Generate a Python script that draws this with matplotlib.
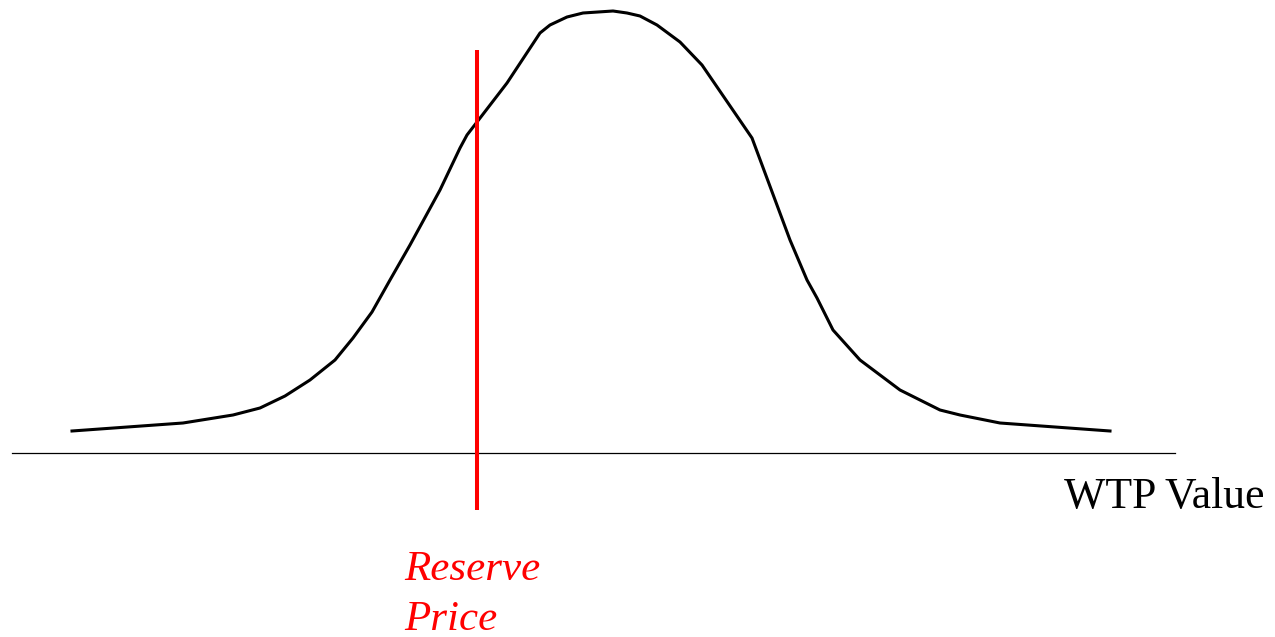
import matplotlib
matplotlib.use("Agg")
from matplotlib import pyplot as plt

# WTP distribution curve (x = WTP value, y = density, pixel-like units)
wtp = [72, 183, 233, 260, 285, 310, 335, 353, 372, 390, 410, 440, 460, 467,
       507, 540, 550, 567, 583, 613, 627, 640, 657, 680, 702, 752, 790, 807,
       817, 833, 860, 900, 940, 960, 1000, 1110]
density = [431, 423, 415, 408, 396, 380, 360, 338, 312, 280, 245, 190, 148, 135,
           83, 33, 25, 17, 13, 11, 13, 16, 25, 42, 65, 138, 240, 280,
           298, 330, 360, 390, 410, 415, 423, 431]

axisY = 453
axisStart, axisEnd = 12, 1175
reservePrice = 477
reserveTop, reserveBottom = 50, 510

fig = plt.figure(figsize=(12.75, 6.37), dpi=100)
ax = fig.add_axes([0, 0, 1, 1])
ax.set_xlim(0, 1275)
ax.set_ylim(637, 0)
ax.axis("off")

ax.plot(wtp, density, color="black", lw=2.2, solid_joinstyle="round")
ax.plot([axisStart, axisEnd], [axisY, axisY], color="black", lw=0.9)
ax.plot([reservePrice, reservePrice], [reserveTop, reserveBottom], color="red", lw=2.9,
        solid_capstyle="butt")

ax.text(1064, 508, "WTP Value", fontsize=31.5, family="Liberation Serif",
        color="black", va="baseline", ha="left")
ax.text(404, 580, "Reserve", fontsize=31, family="Liberation Serif", style="italic",
        color="red", va="baseline", ha="left")
ax.text(404, 630, "Price", fontsize=31, family="Liberation Serif", style="italic",
        color="red", va="baseline", ha="left")

fig.savefig("out.png", dpi=100)
